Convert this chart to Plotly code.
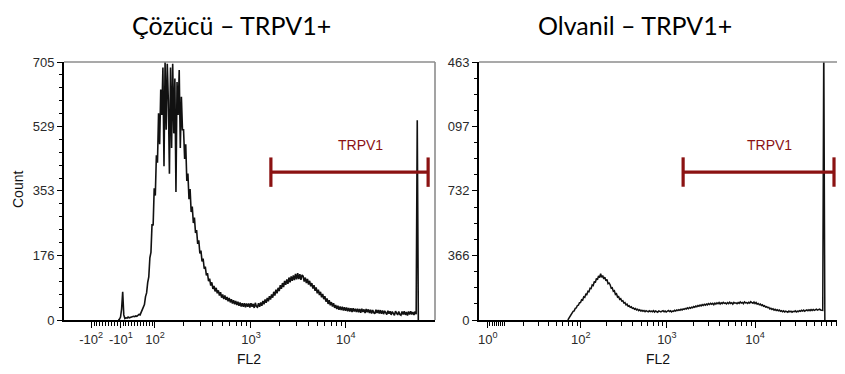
import math
import plotly.graph_objects as go

# ---------------- data (channel units, 0-1024 display scale) ----------------
left_start, left_step = 150, 3
left_counts = [
    0, 2, 8, 30, 77, 14, 4, 6, 5, 8,
    6, 7, 9, 8, 10, 9, 11, 10, 13, 15,
    14, 22, 26, 38, 42, 64, 74, 102, 118, 170,
    185, 262, 258, 360, 340, 450, 430, 565, 480, 630,
    560, 690, 420, 705, 520, 700, 600, 400, 690, 470,
    700, 510, 660, 350, 650, 560, 683, 470, 610, 520,
    520, 440, 480, 380, 400, 330, 358, 295, 310, 265,
    280, 238, 246, 208, 218, 182, 190, 160, 168, 140,
    146, 122, 128, 106, 113, 94, 103, 85, 93, 78,
    88, 73, 81, 67, 76, 61, 70, 57, 67, 55,
    63, 51, 60, 48, 57, 45, 54, 43, 52, 41,
    50, 39, 48, 37, 46, 36, 46, 35, 45, 36,
    45, 34, 46, 36, 44, 33, 47, 37, 35, 46,
    36, 48, 39, 52, 43, 56, 47, 60, 51, 65,
    56, 70, 61, 77, 67, 83, 73, 88, 79, 95,
    85, 101, 90, 107, 96, 111, 99, 116, 103, 119,
    107, 122, 109, 126, 111, 128, 112, 125, 110, 123,
    120, 105, 116, 101, 112, 97, 107, 92, 101, 86,
    95, 80, 89, 73, 83, 68, 77, 62, 71, 57,
    65, 50, 59, 44, 54, 40, 49, 37, 46, 33,
    41, 30, 39, 28, 37, 27, 36, 26, 35, 25,
    34, 24, 33, 23, 32, 22, 32, 23, 31, 22,
    31, 21, 30, 20, 31, 22, 29, 19, 30, 21,
    29, 19, 28, 18, 27, 20, 17, 28, 19, 27,
    18, 27, 17, 26, 16, 25, 19, 15, 25, 17,
    24, 14, 23, 16, 13, 24, 17, 14, 23, 15,
    13, 23, 15, 24, 14, 22, 12, 23, 15, 24,
    15, 22, 14, 23, 16, 546, 0,
]

right_start, right_step = 252, 3
right_counts = [
    0, 10, 17, 31, 34, 49, 52, 66, 68, 82,
    84, 98, 99, 115, 112, 131, 128, 147, 145, 163,
    160, 180, 178, 199, 195, 218, 212, 236, 228, 250,
    240, 262, 242, 252, 233, 243, 222, 230, 206, 210,
    200, 180, 183, 162, 166, 145, 149, 130, 133, 117,
    121, 107, 109, 96, 99, 86, 90, 78, 81, 72,
    75, 66, 69, 61, 65, 57, 61, 53, 58, 51,
    55, 49, 54, 47, 53, 50, 46, 52, 48, 51,
    47, 53, 45, 51, 49, 44, 52, 48, 46, 50,
    53, 47, 51, 45, 50, 54, 48, 52, 46, 51,
    49, 55, 51, 57, 53, 59, 55, 61, 57, 63,
    60, 66, 62, 69, 64, 71, 67, 73, 69, 76,
    72, 79, 75, 82, 78, 85, 80, 87, 82, 89,
    84, 91, 86, 93, 88, 95, 89, 94, 87, 96,
    90, 97, 92, 99, 91, 98, 93, 100, 94, 97,
    91, 99, 93, 101, 94, 98, 90, 100, 95, 97,
    92, 99, 94, 102, 96, 100, 93, 103, 97, 99,
    94, 101, 96, 104, 98, 95, 102, 93, 99, 90,
    94, 86, 90, 82, 86, 78, 81, 73, 76, 70,
    72, 63, 67, 60, 64, 56, 61, 54, 58, 52,
    56, 49, 53, 47, 52, 45, 50, 48, 44, 51,
    46, 50, 44, 49, 47, 52, 45, 50, 48, 53,
    49, 55, 51, 56, 50, 54, 57, 52, 58, 53,
    59, 54, 60, 55, 58, 61, 56, 59, 62, 57,
    58, 55, 1600, 0,
]

panel_titles = ["Çözücü – TRPV1+", "Olvanil – TRPV1+"]

left_xtick_vals = [75, 157, 251, 516, 778]
left_xtick_text = ["-10<sup>2</sup>", "-10<sup>1</sup>", "10<sup>2</sup>", "10<sup>3</sup>", "10<sup>4</sup>"]
right_xtick_vals = [25, 289, 533, 783, 1024]
right_xtick_text = ["10<sup>0</sup>", "10<sup>2</sup>", "10<sup>3</sup>", "10<sup>4</sup>", "10<sup>5</sup>"]

left_ytick_vals = [0, 176, 353, 529, 705]
left_ytick_text = ["0", "176", "353", "529", "705"]
right_ytick_vals = [0, 366, 732, 1097, 1463]
right_ytick_text = ["0", "366", "732", "097", "463"]

gate_name = "TRPV1"
left_gate = [571, 1005]
left_gate_level = 404
left_gate_label = (817, 478)
right_gate = [579, 1007]
right_gate_level = 839
right_gate_label = (825, 990)

# ---------------- styling ----------------
GATE_COLOR = "#8B1212"
TICK_FONT = dict(family="Liberation Sans, Arial", size=13, color="#2a2a2a")
OFF = 8                      # page body margin offset
W, H = 845 - OFF, 374 - OFF
TOP, BOTTOM = 62 - OFF, 320 - OFF
MT, MB = TOP, H - BOTTOM


def decade_minors(start, end):
    return [start + (end - start) * math.log10(k) for k in range(2, 10)]


left_minor_x = [v for v in range(83, 246, 8) if abs(v - 157) > 3] \
    + decade_minors(251, 516) + decade_minors(516, 778)
right_minor_x = [31, 37, 43, 49, 55, 61, 67, 73] + decade_minors(57, 289) \
    + decade_minors(289, 533) + decade_minors(533, 783) + decade_minors(783, 1024)
left_minor_y = [i * 705 / 20 for i in range(21) if i % 5]
right_minor_y = [i * 1463 / 16 for i in range(17) if i % 4]

fig = go.Figure()

lx = [left_start + left_step * i for i in range(len(left_counts))]
rx = [right_start + right_step * i for i in range(len(right_counts))]

fig.add_trace(go.Scatter(x=lx, y=left_counts, mode="lines",
                         line=dict(color="#111", width=1.6), xaxis="x", yaxis="y",
                         showlegend=False, hoverinfo="skip"))
fig.add_trace(go.Scatter(x=rx, y=right_counts, mode="lines",
                         line=dict(color="#111", width=1.5), xaxis="x2", yaxis="y2",
                         showlegend=False, hoverinfo="skip"))

for gx, gl, xa, ya in [(left_gate, left_gate_level, "x", "y"),
                       (right_gate, right_gate_level, "x2", "y2")]:
    fig.add_trace(go.Scatter(
        x=gx, y=[gl, gl], mode="lines+markers", xaxis=xa, yaxis=ya,
        line=dict(color=GATE_COLOR, width=3.2),
        marker=dict(symbol="line-ns", size=21, line=dict(color=GATE_COLOR, width=3.2)),
        showlegend=False, hoverinfo="skip", cliponaxis=False))

def px_x(p):
    return (p - OFF) / W

dom_l = [px_x(64), px_x(435)]
dom_r = [px_x(479), px_x(840)]

def xaxis_cfg(domain, anchor, tv, tt, minor):
    return dict(domain=domain, anchor=anchor, range=[0, 1024], showgrid=False, zeroline=False,
                showline=True, linecolor="#000", linewidth=2, automargin=False,
                tickmode="array", tickvals=tv, ticktext=tt, ticks="outside",
                ticklen=6, tickwidth=1.3, tickcolor="#000", tickfont=TICK_FONT,
                minor=dict(tickvals=minor, ticks="outside", ticklen=4, tickwidth=1, tickcolor="#000"))

def yaxis_cfg(anchor, rng, tv, tt, minor):
    return dict(domain=[0, 1], anchor=anchor, range=rng, showgrid=False, zeroline=False,
                showline=True, linecolor="#000", linewidth=2, automargin=False,
                tickmode="array", tickvals=tv, ticktext=tt, ticks="outside",
                ticklen=5, tickwidth=1.3, tickcolor="#000", tickfont=TICK_FONT,
                minor=dict(tickvals=minor, ticks="outside", ticklen=3, tickwidth=1, tickcolor="#000"))

fig.update_layout(
    width=W, height=H, margin=dict(l=0, r=0, t=MT, b=MB, pad=0, autoexpand=False),
    paper_bgcolor="white", plot_bgcolor="white",
    xaxis=xaxis_cfg(dom_l, "y", left_xtick_vals, left_xtick_text, left_minor_x),
    yaxis=yaxis_cfg("x", [0, 705], left_ytick_vals, left_ytick_text, left_minor_y),
    xaxis2=xaxis_cfg(dom_r, "y2", right_xtick_vals, right_xtick_text, right_minor_x),
    yaxis2=yaxis_cfg("x2", [0, 1463], right_ytick_vals, right_ytick_text, right_minor_y),
)

# gray top/right frame
for xr, yr in [("x domain", "y domain"), ("x2 domain", "y2 domain")]:
    fig.add_shape(type="line", xref=xr, yref=yr, x0=0, x1=1, y0=1, y1=1,
                  line=dict(color="#8c8c8c", width=1.6))
    fig.add_shape(type="line", xref=xr, yref=yr, x0=1, x1=1, y0=0, y1=1,
                  line=dict(color="#8c8c8c", width=1.6))

plot_h = BOTTOM - TOP
def px_y(p):
    return (BOTTOM - (p - OFF)) / plot_h

def note(text, x, y, xref, yref, font, **kw):
    return dict(text=text, x=x, y=y, xref=xref, yref=yref, showarrow=False,
                xanchor="center", yanchor="middle", font=font, **kw)

title_font = dict(family="Lato", size=25, color="#000")
axis_font = dict(family="Liberation Sans, Arial", size=14, color="#111")
gate_font = dict(family="Liberation Sans, Arial", size=14, color=GATE_COLOR)

ann = [
    note(panel_titles[0], px_x(231), px_y(25), "paper", "paper", title_font, borderpad=0),
    note(panel_titles[1], px_x(635), px_y(25), "paper", "paper", title_font, borderpad=0),
    note("Count", px_x(18), px_y(190), "paper", "paper", axis_font, textangle=-90),
    note("FL2", px_x(249), px_y(359), "paper", "paper", axis_font),
    note("FL2", px_x(658), px_y(359), "paper", "paper", axis_font),
    note(gate_name, left_gate_label[0], left_gate_label[1], "x", "y", gate_font),
    note(gate_name, right_gate_label[0], right_gate_label[1], "x2", "y2", gate_font),
]
fig.update_layout(annotations=ann)

fig.write_html("out.html")
